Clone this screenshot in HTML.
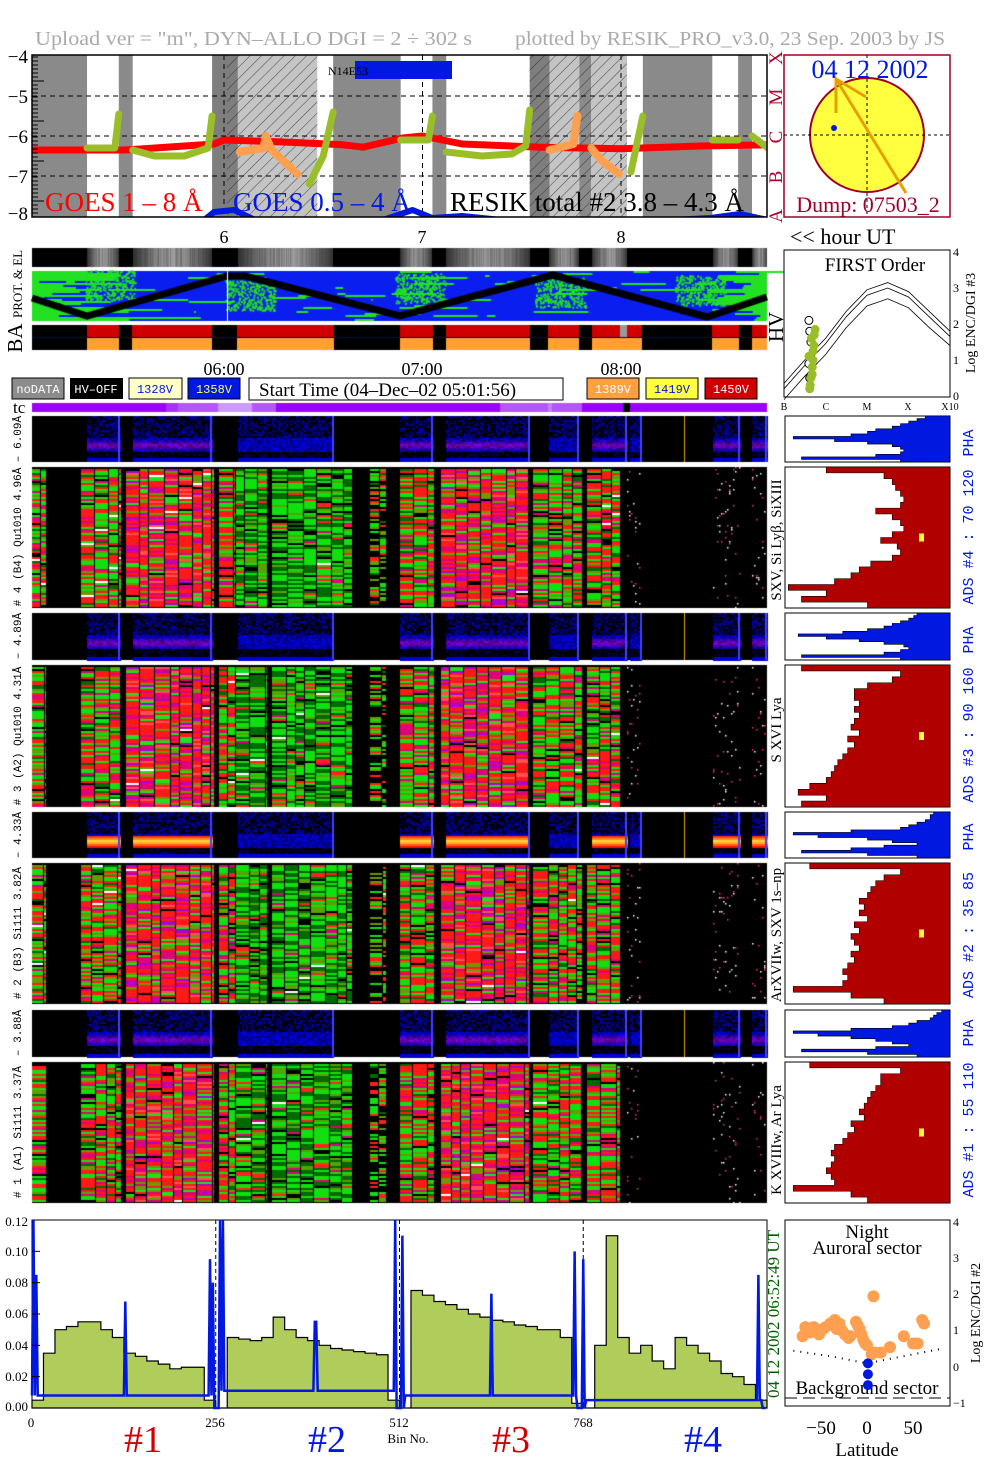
<!DOCTYPE html>
<html><head><meta charset="utf-8">
<style>
body{margin:0;background:#fff;width:1004px;height:1477px;overflow:hidden;position:relative;font-family:"Liberation Serif",serif}
canvas,svg{position:absolute;left:0;top:0}
.mono{font-family:"Liberation Mono",monospace}
</style></head>
<body>
<canvas id="cv" width="1004" height="1477"></canvas>
<svg id="sv" width="1004" height="1477" xmlns="http://www.w3.org/2000/svg">
<defs>
<pattern id="hatch" width="8" height="8" patternUnits="userSpaceOnUse" patternTransform="rotate(45)"><line x1="0" y1="0" x2="0" y2="8" stroke="#222" stroke-width="0.8"/></pattern>
</defs>
<g id="goesBands"></g>
<text x="35" y="45" fill="#aaa" font-size="20" textLength="437" lengthAdjust="spacingAndGlyphs">Upload ver = "m", DYN–ALLO DGI =   2 ÷ 302 s</text>
<text x="515" y="45" fill="#aaa" font-size="20" textLength="430" lengthAdjust="spacingAndGlyphs">plotted by RESIK_PRO_v3.0, 23 Sep. 2003 by JS</text>
<g font-size="19" text-anchor="end">
<text x="28" y="63">−4</text><text x="28" y="103">−5</text><text x="28" y="143">−6</text><text x="28" y="183">−7</text><text x="28" y="220">−8</text>
</g>
<g fill="#b0002a" font-size="19">
<text transform="translate(782,58) rotate(-90)" text-anchor="middle">X</text>
<text transform="translate(782,97) rotate(-90)" text-anchor="middle">M</text>
<text transform="translate(782,137) rotate(-90)" text-anchor="middle">C</text>
<text transform="translate(782,177) rotate(-90)" text-anchor="middle">B</text>
<text transform="translate(782,216) rotate(-90)" text-anchor="middle">A</text>
</g>
<g font-size="18" text-anchor="middle">
<text x="224" y="243">6</text><text x="422" y="243">7</text><text x="621" y="243">8</text>
</g>
<text x="790" y="244" font-size="22">&lt;&lt; hour UT</text>
<rect x="784" y="55" width="166" height="162" fill="#fff" stroke="#a0002a" stroke-width="1.5"/>
<circle cx="867" cy="135" r="57" fill="#ffff40" stroke="#a00020" stroke-width="2"/>
<line x1="784" y1="135" x2="950" y2="135" stroke="#000" stroke-dasharray="3,3"/>
<line x1="867" y1="55" x2="867" y2="217" stroke="#000" stroke-dasharray="3,3"/>
<polyline points="836,113 836,79 906,193" fill="none" stroke="#e8a000" stroke-width="3"/>
<line x1="836" y1="79" x2="866" y2="97" stroke="#e8a000" stroke-width="3"/>
<circle cx="834" cy="128" r="3" fill="#0018e0"/>
<text x="870" y="78" font-size="26" fill="#0018e0" text-anchor="middle">04 12 2002</text>
<text x="868" y="212" font-size="22" fill="#a0002a" text-anchor="middle">Dump: 07503_2</text>
<text transform="translate(22,284) rotate(-90)" font-size="13" text-anchor="middle">PROT. &amp; EL</text>
<text transform="translate(22,338) rotate(-90)" font-size="21" text-anchor="middle">BA</text>
<text transform="translate(783,327) rotate(-90)" font-size="21" text-anchor="middle">HV</text>
<g font-size="18" text-anchor="middle">
<text x="224" y="375">06:00</text><text x="422" y="375">07:00</text><text x="621" y="375">08:00</text>
</g>
<g class="mono" font-size="12" text-anchor="middle">
<rect x="12" y="378" width="52" height="21" fill="#8c8c8c" stroke="#000"/><text x="38" y="393" fill="#fff">noDATA</text>
<rect x="70" y="378" width="53" height="21" fill="#000"/><text x="96" y="393" fill="#fff">HV–OFF</text>
<rect x="129" y="378" width="53" height="21" fill="#ffffc8" stroke="#000"/><text x="155" y="393" fill="#0018e0">1328V</text>
<rect x="188" y="378" width="52" height="21" fill="#0018e0" stroke="#000"/><text x="214" y="393" fill="#ffff60">1358V</text>
<rect x="587" y="378" width="52" height="21" fill="#ffa040" stroke="#000"/><text x="613" y="393" fill="#fff">1389V</text>
<rect x="646" y="378" width="52" height="21" fill="#ffff40" stroke="#000"/><text x="672" y="393" fill="#0018e0">1419V</text>
<rect x="705" y="378" width="52" height="21" fill="#d00000" stroke="#000"/><text x="731" y="393" fill="#fff">1450V</text>
</g>
<rect x="249" y="378" width="314" height="22" fill="#fff" stroke="#000"/>
<text x="259" y="396" font-size="19">Start Time (04–Dec–02 05:01:56)</text>
<text x="13" y="413" font-size="17">tc</text>
<g class="mono" font-size="11" text-anchor="middle">
<text transform="translate(21,439) rotate(-90)">– 6.09Å</text>
<text transform="translate(21,537) rotate(-90)"># 4 (B4) Qu1010 4.96Å</text>
<text transform="translate(21,636) rotate(-90)">– 4.89Å</text>
<text transform="translate(21,736) rotate(-90)"># 3 (A2) Qu1010 4.31Å</text>
<text transform="translate(21,835) rotate(-90)">– 4.33Å</text>
<text transform="translate(21,933) rotate(-90)"># 2 (B3) Si111 3.82Å</text>
<text transform="translate(21,1033) rotate(-90)">– 3.88Å</text>
<text transform="translate(21,1132) rotate(-90)"># 1 (A1) Si111 3.37Å</text>
</g>
<g font-size="15" text-anchor="middle">
<text transform="translate(781,540) rotate(-90)">SXV, Si Lyβ, SiXIII</text>
<text transform="translate(781,730) rotate(-90)">S XVI Lya</text>
<text transform="translate(781,935) rotate(-90)">ArXVIIw, SXV 1s–np</text>
<text transform="translate(781,1140) rotate(-90)">K XVIIIw, Ar Lya</text>
</g>
<g class="mono" font-size="15" fill="#0018e0" text-anchor="middle">
<text transform="translate(973,443) rotate(-90)">PHA</text>
<text transform="translate(973,537) rotate(-90)">ADS #4 :  70 120</text>
<text transform="translate(973,640) rotate(-90)">PHA</text>
<text transform="translate(973,735) rotate(-90)">ADS #3 :  90 160</text>
<text transform="translate(973,837) rotate(-90)">PHA</text>
<text transform="translate(973,935) rotate(-90)">ADS #2 :  35 85</text>
<text transform="translate(973,1033) rotate(-90)">PHA</text>
<text transform="translate(973,1130) rotate(-90)">ADS #1 :  55 110</text>
</g>
<rect x="784" y="250" width="166" height="147" fill="#fff" stroke="#000"/>
<text x="875" y="271" font-size="19" text-anchor="middle">FIRST Order</text>
<g font-size="10" text-anchor="middle">
<text x="784" y="410">B</text><text x="826" y="410">C</text><text x="867" y="410">M</text><text x="908" y="410">X</text><text x="950" y="410">X10</text>
</g>
<g font-size="12">
<text x="953" y="400">0</text><text x="953" y="364">1</text><text x="953" y="328">2</text><text x="953" y="292">3</text><text x="953" y="256">4</text>
</g>
<text transform="translate(975,323) rotate(-90)" font-size="14" text-anchor="middle">Log ENC/DGI #3</text>
<g font-size="13" text-anchor="end">
<text x="28" y="1226">0.12</text><text x="28" y="1256">0.10</text><text x="28" y="1287">0.08</text><text x="28" y="1318">0.06</text><text x="28" y="1350">0.04</text><text x="28" y="1381">0.02</text><text x="28" y="1411">0.00</text>
</g>
<g font-size="13" text-anchor="middle">
<text x="31" y="1427">0</text><text x="215" y="1427">256</text><text x="399" y="1427">512</text><text x="583" y="1427">768</text>
<text x="408" y="1443">Bin No.</text>
</g>
<text x="57" y="1239" font-size="13">CORRECTED spectra</text>
<text x="64" y="1258" font-size="13">Collected in 11366.8 s</text>
<text x="351" y="1239" font-size="13">FIRST Order</text>
<text transform="translate(779,1314) rotate(-90)" font-size="17" fill="#006000" text-anchor="middle">04 12 2002   06:52:49 UT</text>
<g font-size="38" text-anchor="middle">
<text x="143" y="1452" fill="#d00000">#1</text><text x="327" y="1452" fill="#0018e0">#2</text><text x="511" y="1452" fill="#d00000">#3</text><text x="703" y="1452" fill="#0018e0">#4</text>
</g>
<rect x="785" y="1220" width="165" height="186" fill="#fff" stroke="#000"/>
<text x="867" y="1238" font-size="19" text-anchor="middle">Night</text>
<text x="867" y="1254" font-size="19" text-anchor="middle">Auroral sector</text>
<text x="867" y="1394" font-size="19" text-anchor="middle">Background sector</text>
<g font-size="19" text-anchor="middle">
<text x="821" y="1434">−50</text><text x="867" y="1434">0</text><text x="913" y="1434">50</text>
</g>
<text x="867" y="1456" font-size="19" text-anchor="middle">Latitude</text>
<g font-size="12">
<text x="953" y="1226">4</text><text x="953" y="1262">3</text><text x="953" y="1298">2</text><text x="953" y="1334">1</text><text x="953" y="1371">0</text><text x="953" y="1407">−1</text>
</g>
<text transform="translate(980,1313) rotate(-90)" font-size="14" text-anchor="middle">Log ENC/DGI #2</text>
<line x1="785" y1="1398" x2="950" y2="1398" stroke="#000" stroke-dasharray="12,6"/>
</svg>
<script>
// ===== DATA =====
const bandStart=[5.033,5.47,5.94,6.07,6.55,7.05,7.54,7.64,7.79,7.85,8.11,8.59];
const bandEnd=[5.31,5.54,6.07,6.47,6.89,7.12,7.64,7.79,7.85,8.03,8.46,8.66];
const bandShade=['#8a8a8a','#8a8a8a','#7e7e7e','#c4c4c4','#8a8a8a','#8a8a8a','#7e7e7e','#c4c4c4','#8a8a8a','#c4c4c4','#8a8a8a','#8a8a8a'];
const hatchStart=[6.015,7.54];
const hatchEnd=[6.47,8.03];
const goesLongT=[5.033,5.5,5.95,6.0,6.3,6.6,6.7,6.9,7.0,7.2,7.6,8.0,8.4,8.74];
const goesLongV=[-6.35,-6.35,-6.2,-6.1,-6.15,-6.22,-6.28,-6.05,-6.0,-6.2,-6.28,-6.32,-6.25,-6.22];
const goesShortT=[5.85,5.95,6.05,6.2,6.45,6.8,6.95,7.05,7.2,7.5,7.6,8.25,8.45,8.6,8.74];
const goesShortV=[-8.3,-7.9,-7.85,-8.2,-8.4,-8.1,-7.85,-8.05,-8.0,-8.15,-8.4,-8.1,-8.05,-7.95,-8.1];
const resikT=[[5.31,5.45,5.47],[5.54,5.65,5.8,5.92,5.94],[6.43,6.5,6.55],[6.89,7.03,7.05],[7.12,7.3,7.45,7.52,7.54],[8.05,8.11],[8.46,8.59],[8.66,8.74]];
const resikV=[[-6.3,-6.3,-5.45],[-6.35,-6.5,-6.5,-6.3,-5.5],[-7.2,-6.5,-5.4],[-6.1,-6.1,-5.5],[-6.4,-6.5,-6.45,-6.25,-5.35],[-6.9,-5.5],[-6.1,-6.1],[-6.0,-6.3]];
const resikOrT=[[6.08,6.2,6.21,6.24,6.37],[7.64,7.72,7.76,7.78],[7.85,7.9,7.99]];
const resikOrV=[[-6.4,-6.3,-6.0,-6.35,-6.95],[-6.35,-6.25,-6.2,-5.5],[-6.3,-6.6,-6.95]];
const curveC=[0,0.5,1,1.5,2,2.5,3,3.5,4];
const curveL1=[0.35,1.0,1.6,2.35,2.95,3.15,2.9,2.35,1.8];
const curveL2=[0.2,0.85,1.45,2.2,2.8,3.0,2.75,2.2,1.65];
const curveL3=[-0.1,0.55,1.15,1.9,2.5,2.7,2.45,1.9,1.4];
const firstC=[0.62,0.65,0.68,0.7,0.72,0.66,0.75,0.7,0.68,0.63,0.6,0.73];
const firstL=[0.2,0.5,0.8,1.0,1.4,1.6,1.85,1.25,0.6,0.3,1.1,1.7];
const openC=[0.6,0.62,0.65,0.6,0.62];
const openL=[2.1,1.8,1.5,0.9,0.5];
const pha4=[0.15,0.2,0.25,0.3,0.35,0.45,0.5,0.6,0.95,0.7,0.5,0.35,0.3,0.28,0.3,0.45,0.9,0.3];
const pha3=[0.2,0.22,0.25,0.3,0.35,0.4,0.5,0.65,0.92,0.75,0.55,0.4,0.28,0.25,0.3,0.4,0.9,0.3];
const pha2=[0.1,0.12,0.12,0.15,0.2,0.25,0.3,0.6,0.95,0.8,0.5,0.35,0.2,0.4,0.6,0.9,0.5,0.2];
const pha1=[0.05,0.08,0.1,0.12,0.2,0.25,0.35,0.6,0.95,0.8,0.6,0.45,0.35,0.25,0.45,0.9,0.5,0.2];
const ads4=[0.75,0.4,0.35,0.33,0.3,0.28,0.3,0.45,0.35,0.3,0.28,0.35,0.42,0.32,0.3,0.35,0.48,0.55,0.6,0.7,0.98,0.75,0.9,0.5];
const ads3=[0.9,0.3,0.35,0.5,0.58,0.58,0.55,0.58,0.55,0.58,0.6,0.55,0.62,0.58,0.62,0.65,0.68,0.7,0.72,0.75,0.85,0.92,0.75,0.9];
const ads2=[0.85,0.3,0.4,0.45,0.48,0.5,0.55,0.52,0.55,0.5,0.58,0.55,0.6,0.58,0.55,0.6,0.58,0.62,0.65,0.62,0.65,0.95,0.6,0.4];
const ads1=[0.85,0.3,0.42,0.42,0.45,0.48,0.5,0.52,0.55,0.52,0.6,0.58,0.62,0.65,0.7,0.72,0.7,0.72,0.75,0.72,0.7,0.95,0.6,0.5];
const specBins=[];for(let b=0;b<1024;b+=16)specBins.push(b);
const specVals=[0.005,0.035,0.05,0.052,0.055,0.055,0.05,0.045,0.035,0.033,0.03,0.028,0.025,0.026,0.026,0.005,
0.0,0.045,0.044,0.043,0.045,0.058,0.05,0.045,0.043,0.04,0.038,0.037,0.036,0.035,0.034,0.005,
0.0,0.075,0.072,0.068,0.066,0.063,0.06,0.058,0.056,0.055,0.053,0.052,0.05,0.05,0.045,0.003,
0.0,0.04,0.11,0.045,0.035,0.04,0.03,0.025,0.045,0.04,0.035,0.03,0.022,0.02,0.015,0.005];
const blueBase=[0.008,0.011,0.008,0.005];
const blueSpikeBins=[2,6,130,248,252,262,266,395,506,516,640,756,768,1012];
const blueSpikeVals=[0.12,0.085,0.068,0.095,0.08,0.12,0.12,0.055,0.12,0.11,0.073,0.1,0.095,0.085];
const blueGapStart=[254,508,760,1018];
const blueGapEnd=[264,520,772,1024];
const latOrange=[-70,-67,-65,-62,-58,-55,-52,-48,-45,-40,-35,-33,-30,-27,-24,-20,-18,-12,-10,-8,-6,-4,-2,0,5,8,15,25,40,50,60,62,55,7];
const logOrange=[0.85,1.1,1.0,0.95,1.1,1.0,0.9,1.05,1.1,1.2,1.3,1.05,1.2,1.0,0.9,0.8,0.85,1.25,1.15,1.05,0.9,0.75,0.65,0.6,0.35,0.4,0.4,0.55,0.85,0.65,1.3,1.2,0.65,1.95];
const latBlue=[1,1,1];
const logBlue=[0.1,-0.2,-0.5];
const latDot=[-80,-40,0,40,80];
const logDot=[0.45,0.3,0.1,0.3,0.5];

// ===== AXES =====
const tx=t=>224+(t-6)*198.5;
const gy=v=>216-(v+8)*40;
const sx=b=>32+b*735/1024;
const sy=v=>1408-v*1566.7;
const fx=c=>784+c*41.5;
const fy=l=>396-l*36;
const lx=d=>867+d*0.92;
const ly=l=>1367-l*36.2;

const NS='http://www.w3.org/2000/svg';
const svg=document.getElementById('sv');
function el(tag,attrs,parent){const e=document.createElementNS(NS,tag);for(const k in attrs)e.setAttribute(k,attrs[k]);(parent||svg).appendChild(e);return e;}

const gb=document.getElementById('goesBands');
for(let i=0;i<bandStart.length;i++){
  const r=el('rect',{x:tx(bandStart[i]),y:55,width:tx(bandEnd[i])-tx(bandStart[i]),height:162,fill:bandShade[i]},gb);
  
  
}
for(let i=0;i<hatchStart.length;i++){
  const r=el('rect',{x:tx(hatchStart[i]),y:55,width:tx(hatchEnd[i])-tx(hatchStart[i]),height:162,fill:'url(#hatch)'},gb);
  
  
}
[96,136,176].forEach(y=>{const l=el('line',{x1:32,x2:767,y1:y,y2:y,stroke:'#000','stroke-dasharray':'5,4'},gb);

});
[6,7,8].forEach(h=>{const l=el('line',{x1:tx(h),x2:tx(h),y1:55,y2:217,stroke:'#000','stroke-dasharray':'5,4'},gb);

});
const clip=el('clipPath',{id:'gclip'});el('rect',{x:32,y:55,width:735,height:162},clip);
const gg=el('g',{'clip-path':'url(#gclip)'});


const nr=el('rect',{x:355,y:61,width:97,height:18,fill:'#0018e0'},gg);


const nt=el('text',{x:328,y:75,'font-size':12},gg);nt.textContent='N14E53';


function pl(T,V,color,w){return el('polyline',{points:T.map((t,i)=>tx(t)+','+gy(V[i])).join(' '),fill:'none',stroke:color,'stroke-width':w,'stroke-linejoin':'round','stroke-linecap':'round'},gg);}
const red=pl(goesLongT,goesLongV,'#ff0000',7);


const blu=pl(goesShortT,goesShortV,'#0018e0',6);


for(let i=0;i<resikT.length;i++){const p=pl(resikT[i],resikV[i],'#9abd2a',7);

}
for(let i=0;i<resikOrT.length;i++){const p=pl(resikOrT[i],resikOrV[i],'#ffa050',8);

}
[['GOES 1 – 8 Å',45,'#ff0000'],['GOES 0.5 – 4 Å',233,'#0018e0'],['RESIK total #2  3.8 – 4.3 Å',450,'#000']].forEach(a=>{
 const t=el('text',{x:a[1],y:211,'font-size':27,fill:a[2]},gg);t.textContent=a[0];
 
 });
const gf=el('rect',{x:32,y:55,width:735,height:162,fill:'none',stroke:'#000','stroke-width':1.5});


for(let y=57;y<216;y+=4){const tk=el('line',{x1:32,x2:y%40<4?44:38,y1:y,y2:y,stroke:'#000'});

}

[curveL1,curveL2,curveL3].forEach(L=>{const p=el('polyline',{points:curveC.map((c,i)=>fx(c)+','+fy(L[i])).join(' '),fill:'none',stroke:'#000','stroke-width':0.8});

});
for(let i=0;i<openC.length;i++){const c=el('circle',{cx:fx(openC[i]),cy:fy(openL[i]),r:4,fill:'#fff',stroke:'#000'});

}
for(let i=0;i<firstC.length;i++){const c=el('circle',{cx:fx(firstC[i]),cy:fy(firstL[i]),r:4.5,fill:'#9abd2a'});

}

function hist(arr,y0,y1,color){
 const h=(y1-y0)/arr.length;let pts=['950,'+y0];
 arr.forEach((f,i)=>{const x=950-f*165;pts.push(x+','+(y0+i*h));pts.push(x+','+(y0+(i+1)*h));});
 pts.push('950,'+y1);
 el('rect',{x:785,y:y0,width:165,height:y1-y0,fill:'#fff',stroke:'#000'});
 return el('polygon',{points:pts.join(' '),fill:color,stroke:'#000','stroke-width':0.6});}
const hdefs=[[pha4,416,462,'#0018e0'],[ads4,467,608,'#b00000'],[pha3,613,660,'#0018e0'],[ads3,665,807,'#b00000'],[pha2,812,858,'#0018e0'],[ads2,863,1004,'#b00000'],[pha1,1010,1057,'#0018e0'],[ads1,1062,1203,'#b00000']];
hdefs.forEach(d=>{const p=hist(d[0],d[1],d[2],d[3]);


if(d[3]!=='#0018e0'){const m=el('rect',{x:919,y:(d[1]+d[2])/2-4,width:5,height:8,fill:'#ffff30'});

}});

const sf=el('rect',{x:32,y:1220,width:735,height:188,fill:'#fff',stroke:'#000'});


let gp=[sx(0)+','+sy(0)];specBins.forEach((b,i)=>{gp.push(sx(b)+','+sy(specVals[i]));gp.push(sx(b+16)+','+sy(specVals[i]));});gp.push(sx(1024)+','+sy(0));
const ga=el('polygon',{points:gp.join(' '),fill:'#b0cc5a',stroke:'#000','stroke-width':1.2});


[256,512,768].forEach(b=>{const l=el('line',{x1:sx(b),x2:sx(b),y1:1220,y2:1408,stroke:'#000','stroke-dasharray':'4,3'});

});
let bp=[];
for(let b=0;b<1024;b+=2){let v=blueBase[Math.floor(b/256)];
 for(let g=0;g<blueGapStart.length;g++)if(b>=blueGapStart[g]&&b<blueGapEnd[g])v=0;
 for(let s=0;s<blueSpikeBins.length;s++)if(Math.abs(b-blueSpikeBins[s])<2)v=blueSpikeVals[s];
 bp.push(sx(b)+','+Math.max(1220,sy(v)));}
const bl=el('polyline',{points:bp.join(' '),fill:'none',stroke:'#0018e0','stroke-width':2.5});


for(let v=0;v<=0.12;v+=0.02){const t=el('line',{x1:32,x2:40,y1:sy(v),y2:sy(v),stroke:'#000'});

}

const dl=el('polyline',{points:latDot.map((d,i)=>lx(d)+','+ly(logDot[i])).join(' '),fill:'none',stroke:'#000','stroke-dasharray':'1,6','stroke-width':2});


for(let i=0;i<latOrange.length;i++){const c=el('circle',{cx:lx(latOrange[i]),cy:ly(logOrange[i]),r:6,fill:'#ffa050'});

}
for(let i=0;i<latBlue.length;i++){const c=el('circle',{cx:lx(latBlue[i]),cy:ly(logBlue[i]),r:5,fill:'#0018e0'});

}

// ===== CANVAS TEXTURES =====
const cv=document.getElementById('cv');const cx=cv.getContext('2d');
function hsh(a,b){const s=Math.sin(a*127.1+b*311.7)*43758.5453;return s-Math.floor(s);}
cx.fillStyle='#000';cx.fillRect(32,248,735,19);
const graySegs=[[87,119],[133,212],[238,333],[400,432],[446,530],[549,579],[592,627],[713,738],[752,767]];
graySegs.forEach(s=>{for(let x=s[0];x<s[1];x++){const f=(x-s[0])/(s[1]-s[0]);const g=Math.floor(50+110*Math.sin(f*Math.PI)*(0.6+0.4*hsh(x,3)));cx.fillStyle=`rgb(${g},${g},${g})`;cx.fillRect(x,248,1,19);}});
cx.fillStyle='#0a1ef0';cx.fillRect(32,271,735,50);
for(let y=271;y<321;y+=2){
 const L=hsh(y,1)*90;cx.fillStyle='#22e022';cx.fillRect(32,y,L*(y>305?2:1),2);
 const R=hsh(y,2)*70;cx.fillRect(767-R,y,R,2);
 for(let k=0;k<6;k++){const s=32+hsh(y,k+10)*735,w=hsh(y,k+20)*60;if(hsh(y,k+30)<0.35)cx.fillRect(s,y,w,2);}
}
[[110,285],[250,295],[420,288],[560,292],[700,290]].forEach(c=>{cx.fillStyle='#22e022';for(let i=0;i<300;i++){const dx=(hsh(i,c[0])-0.5)*50,dy=(hsh(i,c[1])-0.5)*30;cx.fillRect(c[0]+dx,c[1]+dy,2,2);}});
cx.strokeStyle='#000';cx.lineWidth=7;cx.beginPath();
[[32,298],[87,316],[227,276],[245,276],[400,316],[553,275],[707,317],[767,297]].forEach((p,i)=>i?cx.lineTo(p[0],p[1]):cx.moveTo(p[0],p[1]));cx.stroke();
cx.fillStyle='#fff';cx.fillRect(227,271,1,50);
cx.fillStyle='#000';cx.fillRect(32,325,735,25);
[[87,119],[132,212],[237,334],[400,433],[446,530],[548,579],[592,642],[712,739],[752,767]].forEach(s=>{cx.fillStyle='#d00000';cx.fillRect(s[0],325,s[1]-s[0],12);cx.fillStyle='#ffa030';cx.fillRect(s[0],338,s[1]-s[0],12);});
cx.fillStyle='#999';cx.fillRect(620,325,7,12);
cx.fillStyle='#000080';cx.fillRect(32,337,735,1);
cx.fillStyle='#9a00ff';cx.fillRect(32,403,735,9);
[[166,178,'#a830ff'],[178,218,'#b455ff'],[218,252,'#cc99ff'],[252,276,'#b455ff'],[500,548,'#b455ff'],[548,552,'#c080ff'],[552,582,'#b455ff'],[623,630,'#000']].forEach(s=>{cx.fillStyle=s[2];cx.fillRect(s[0],403,s[1]-s[0],9);});
const specSegs=[[32,47,'mix'],[81,122,'mix'],[126,215,'red'],[219,236,'mix'],[236,268,'green'],[272,353,'green'],[370,387,'sparse'],[400,435,'mix'],[441,530,'red'],[533,583,'mix'],[587,621,'mix'],[627,641,'dots'],[713,740,'dots'],[752,765,'dots']];
const pal={red:[['#ff1a1a',.42],['#e0007a',.2],['#20e020',.1],['#6a9a00',.12],['#b000d0',.06],['#000',.03],['#ff5050',.07]],
green:[['#10e010',.4],['#006a00',.32],['#5aa000',.12],['#ff2020',.06],['#000',.08],['#e0007a',.02]],
mix:[['#ff1a1a',.32],['#10e010',.3],['#6a9a00',.12],['#006a00',.1],['#e0007a',.1],['#000',.06]],
sparse:[['#000',.45],['#10e010',.2],['#6a9a00',.15],['#ff2020',.15],['#006a00',.05]]};
function pick(p,r){let a=0;for(const c of p){a+=c[1];if(r<a)return c[0];}return p[p.length-1][0];}
function drawSpec(y0,y1,vr){
 cx.fillStyle='#000';cx.fillRect(32,y0,735,y1-y0);
 specSegs.forEach((s,si)=>{
  if(s[2]==='dots'){for(let x=s[0];x<s[1];x+=2)for(let y=y0;y<y1;y+=2){const r=hsh(x*3+vr,y);if(r<0.05){cx.fillStyle=r<0.025?'#fff':'#ff3080';cx.fillRect(x,y,1.5,1.5);}}return;}
  let x=s[0],k=0;
  while(x<s[1]){const w=Math.min(s[1]-x,9+Math.floor(hsh(x,vr+si)*8));
   for(let y=y0+2;y<y1-1;y+=2){let r=hsh(x*0.37+k+vr*5,y*1.3);cx.fillStyle=pick(pal[s[2]],r);if(hsh(x+y,vr)<0.004)cx.fillStyle='#fff';cx.fillRect(x,y,w-1,2);}
   x+=w;k++;}
 });
}
drawSpec(467,608,1);drawSpec(665,807,2);drawSpec(863,1004,3);drawSpec(1062,1203,4);
const phaSegs=[[87,120,1],[133,212,1],[238,334,0],[400,433,1],[446,530,1],[549,579,0],[592,627,1],[630,642,0],[713,740,1],[752,767,1]];
function drawPha(y0,y1,vr,yellow){
 cx.fillStyle='#000';cx.fillRect(32,y0,735,y1-y0);
 const H=y1-y0;
 phaSegs.forEach(s=>{for(let x=s[0];x<s[1];x+=2)for(let y=y0;y<y1;y+=2){
  const f=(y-y0)/H;let r=hsh(x+vr*7,y);let b=0,R=0,G=0;
  if(f<0.45)b=r<0.65?50+r*190:0;
  else if(f<0.75){b=110+r*130;if(s[2]){const c=1-Math.abs(f-0.62)/0.13;R=Math.floor(150*c*(0.6+0.4*r));}}
  else if(f<0.9)b=r<0.35?40+r*150:0;else b=210;
  if(yellow&&s[2]&&f>0.5&&f<0.75){const c=1-Math.abs(f-0.62)/0.13;R=255;G=Math.floor(230*Math.max(0,c));b=Math.floor(60*c);}
  cx.fillStyle=`rgb(${R},${G},${Math.floor(b)})`;cx.fillRect(x,y,2,2);}
  cx.fillStyle='#4040ff';cx.fillRect(s[1]-2,y0,2,H);});
 cx.fillStyle='#e8a000';cx.fillRect(684,y0,1,H);
}
drawPha(416,462,1,false);drawPha(613,660,2,false);drawPha(812,858,3,true);drawPha(1010,1057,4,false);
</script>
</body></html>
